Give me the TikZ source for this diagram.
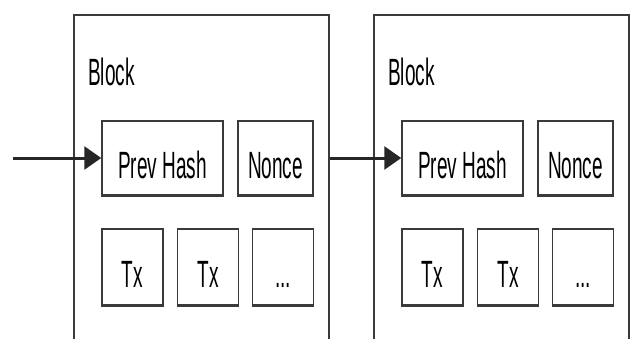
\documentclass[tikz,border=0pt]{standalone}
\usepackage{fontspec}
\usetikzlibrary{arrows.meta}
\newfontfamily\blockfont[FakeStretch=0.5]{Liberation Sans}
\definecolor{edge}{HTML}{3A3A3A}

\begin{document}
\begin{tikzpicture}[x=1pt,y=-1pt,line join=miter,>={Triangle[length=17pt,width=23pt]},
  outer/.style={draw=edge,line width=1.5pt,inner sep=0pt,anchor=north west},
  field/.style={draw=edge,line width=1.5pt,inner sep=0pt,minimum height=74pt,
    font=\blockfont\fontsize{38}{40}\selectfont,text height=40pt,text depth=0pt},
  txfield/.style={field,minimum width=61pt,minimum height=76pt},
  link/.style={draw=black!85,line width=3pt,->}]
\useasboundingbox (0,0) rectangle (631,338);
\clip (0,0) rectangle (631,338);
\foreach \b/\dx in {1/0,2/300}{
  \node[outer,minimum width=255pt,minimum height=340pt] (blk\b) at (73+\dx,14) {};
  \node[anchor=base west,inner sep=0pt,font=\blockfont\fontsize{38}{40}\selectfont] (lbl\b) at (88+\dx,85) {Block};
  \node[field,minimum width=121pt] (ph\b) at (162.5+\dx,158) {Prev Hash};
  \node[field,minimum width=75pt] (nc\b) at (275.5+\dx,158) {Nonce};
  \node[txfield] (txa\b) at (132.5+\dx,267) {Tx};
  \node[txfield] (txb\b) at (208+\dx,267) {Tx};
  \node[txfield] (txc\b) at (283+\dx,267) {...};
  % heavier bottom edges
  \foreach \n in {ph\b,nc\b,txa\b,txb\b,txc\b}
    \draw[edge,line width=3pt] (\n.south west) -- (\n.south east);
}
\coordinate (start) at (13,158);
\draw[link] (start) -- (ph1.west);
\draw[link] (blk1.east |- ph2.west) -- (ph2.west);
\end{tikzpicture}
\end{document}
